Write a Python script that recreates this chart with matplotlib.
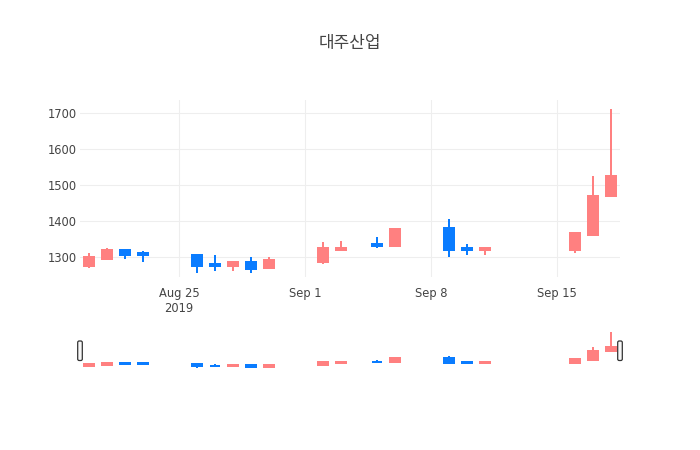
import numpy as np
import pandas as pd
import matplotlib
matplotlib.use("Agg")
import matplotlib.pyplot as plt
import matplotlib.dates as mdates
from matplotlib.patches import FancyBboxPatch
from matplotlib.transforms import Affine2D

plt.rcParams['font.family'] = ['DejaVu Sans', 'Noto Sans CJK KR']

# 일별 시세
dates = ['2019-08-20', '2019-08-21', '2019-08-22', '2019-08-23',
         '2019-08-26', '2019-08-27', '2019-08-28', '2019-08-29', '2019-08-30',
         '2019-09-02', '2019-09-03', '2019-09-05', '2019-09-06',
         '2019-09-09', '2019-09-10', '2019-09-11',
         '2019-09-16', '2019-09-17', '2019-09-18']
opens = [1275, 1295, 1320, 1310, 1305, 1280, 1275, 1285, 1268,
         1285, 1320, 1335, 1330, 1380, 1325, 1320, 1320, 1360, 1470]
highs = [1310, 1325, 1320, 1315, 1305, 1305, 1285, 1300, 1300,
         1340, 1345, 1355, 1378, 1405, 1335, 1328, 1365, 1525, 1710]
lows = [1270, 1295, 1295, 1285, 1255, 1260, 1260, 1255, 1268,
        1280, 1315, 1325, 1330, 1300, 1305, 1305, 1310, 1360, 1470]
closes = [1300, 1320, 1305, 1305, 1275, 1275, 1285, 1265, 1290,
          1325, 1325, 1330, 1378, 1320, 1320, 1325, 1365, 1470, 1525]

tick_dates = ['2019-08-25', '2019-09-01', '2019-09-08', '2019-09-15']
tick_labels = ['Aug 25\n2019', 'Sep 1', 'Sep 8', 'Sep 15']
y_ticks = [1300, 1400, 1500, 1600, 1700]

INC = '#ff8080'
DEC = '#0a7cff'
W, H = 700, 450

x = mdates.date2num(pd.to_datetime(dates))
o = np.array(opens, float)
h = np.array(highs, float)
l = np.array(lows, float)
c = np.array(closes, float)
cols = [INC if cc >= oo else DEC for oo, cc in zip(o, c)]


def candles(a, lw):
    a.vlines(x, l, h, colors=cols, linewidth=lw, zorder=2)
    a.bar(x, np.maximum(np.abs(c - o), 0.5), bottom=np.minimum(o, c), width=0.6,
          color=cols, edgecolor=cols, linewidth=lw, zorder=3)


fig = plt.figure(figsize=(W / 100, H / 100), dpi=100)
ax = fig.add_axes([80 / W, 1 - 277 / H, 540 / W, 177 / H])
sl = fig.add_axes([80 / W, 1 - 368 / H, 540 / W, 36 / H])

x0 = mdates.date2num(pd.Timestamp('2019-08-19 12:00'))
x1 = mdates.date2num(pd.Timestamp('2019-09-18 12:00'))

candles(ax, 1.44)
ax.set_xlim(x0, x1)
ax.set_ylim(1244, 1736)
ax.set_yticks(y_ticks)
ax.set_yticklabels([str(v) for v in y_ticks])
ax.set_xticks(mdates.date2num(pd.to_datetime(tick_dates)))
ax.set_xticklabels(tick_labels, linespacing=1.2)
ax.tick_params(length=0, labelsize=8.3, colors='#444444')
ax.tick_params(axis='x', pad=7)
ax.tick_params(axis='y', pad=2.5)
ax.grid(True, color='#eeeeee', linewidth=0.75)
ax.set_axisbelow(True)
for s in ax.spines.values():
    s.set_visible(False)

# range slider
candles(sl, 1.44)
sl.set_xlim(x0, x1)
sl.set_ylim(1252, 1714)
sl.set_xticks([])
sl.set_yticks([])
for s in sl.spines.values():
    s.set_visible(False)

px = Affine2D().scale(1 / W, 1 / H) + fig.transFigure
for hx in (80, 620):
    fig.patches.append(FancyBboxPatch((hx - 2.3, H - 360.5), 4.6, 19.5,
                                      boxstyle='round,pad=0,rounding_size=1.5',
                                      facecolor='#f8f8f8', edgecolor='#333333',
                                      linewidth=0.9, transform=px, zorder=5))

fig.text(0.5, 1 - 43 / H, '대주산업', ha='center', va='center',
         fontsize=12.2, color='#444444', family=['Noto Sans CJK KR', 'DejaVu Sans'])

fig.savefig('out.png', dpi=100)
